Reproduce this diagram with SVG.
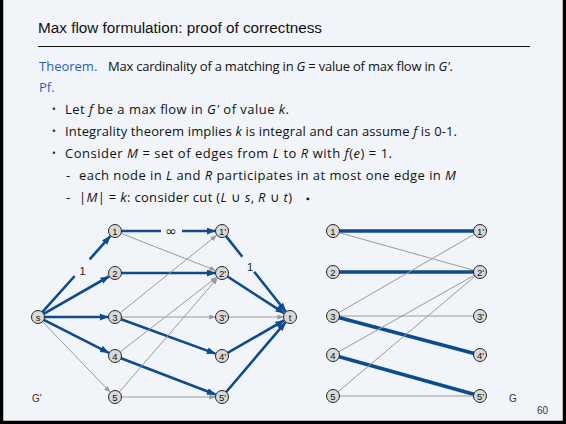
<svg xmlns="http://www.w3.org/2000/svg" width="566" height="424" viewBox="0 0 566 424">
<defs>
<style>
.bg{fill:#f1f5f9}
.title{font-family:"Liberation Sans",Arial,sans-serif;font-size:15.3px;fill:#111}
.body{font-family:"Open Sans","Noto Sans",sans-serif;font-size:13px;fill:#111}
.blue{fill:#1f63b8}
.it{font-style:italic}
.nd circle{fill:#d9d9d9;stroke:#222;stroke-width:1}
.nd text{font-family:"Liberation Sans",Arial,sans-serif;font-size:9.5px;fill:#111;text-anchor:middle}
.thick{stroke:#0d4a8e;stroke-width:2.6;fill:none}
.thin{stroke:#9a9a9a;stroke-width:1;fill:none}
.mthick{stroke:#0d4a8e;stroke-width:3.6;fill:none}
.lbl{font-family:"Liberation Sans",Arial,sans-serif;font-size:11px;fill:#222;text-anchor:middle}
.inf{font-family:"DejaVu Sans",sans-serif;font-size:14px;fill:#222;text-anchor:middle}
.small{font-family:"Liberation Sans",Arial,sans-serif;font-size:10px;fill:#333}
</style>
<marker id="ab" markerUnits="userSpaceOnUse" markerWidth="10" markerHeight="8" refX="8.5" refY="3.5" orient="auto">
<path d="M0,0 L9,3.5 L0,7 z" fill="#0d4a8e"/>
</marker>
<marker id="ag" markerUnits="userSpaceOnUse" markerWidth="7" markerHeight="6" refX="6" refY="2.5" orient="auto">
<path d="M0,0 L6.5,2.5 L0,5 z" fill="#9a9a9a"/>
</marker>
</defs>
<rect class="bg" x="0" y="0" width="566" height="424"/>
<path d="M1.5,0 V422.5 H564.5 V0" fill="none" stroke="#000" stroke-width="3.5"/>

<g id="header">
<text class="title" x="38" y="33">Max flow formulation: proof of correctness</text>
<line x1="38" y1="46.5" x2="530" y2="46.5" stroke="#111" stroke-width="1.2"/>
</g>

<g id="text" class="body">
<text x="39" y="71" class="blue">Theorem.</text>
<text x="108" y="71" textLength="345" lengthAdjust="spacing">Max cardinality of a matching in <tspan class="it">G</tspan> = value of max flow in <tspan class="it">G'</tspan>.</text>
<text x="39" y="92" class="blue">Pf.</text>
<text x="52" y="113" font-size="10">•</text>
<text x="65" y="114" textLength="224" lengthAdjust="spacing">Let <tspan class="it">f</tspan> be a max flow in <tspan class="it">G'</tspan> of value <tspan class="it">k</tspan>.</text>
<text x="52" y="135" font-size="10">•</text>
<text x="65" y="136" textLength="392" lengthAdjust="spacing">Integrality theorem implies <tspan class="it">k</tspan> is integral and can assume <tspan class="it">f</tspan> is 0-1.</text>
<text x="52" y="157" font-size="10">•</text>
<text x="65" y="158" textLength="327" lengthAdjust="spacing">Consider <tspan class="it">M</tspan> = set of edges from <tspan class="it">L</tspan> to <tspan class="it">R</tspan> with <tspan class="it">f</tspan>(<tspan class="it">e</tspan>) = 1.</text>
<text x="66" y="180">-</text>
<text x="79" y="180" textLength="377" lengthAdjust="spacing">each node in <tspan class="it">L</tspan> and <tspan class="it">R</tspan> participates in at most one edge in <tspan class="it">M</tspan></text>
<text x="66" y="202">-</text>
<text x="79" y="202" textLength="213" lengthAdjust="spacing">|<tspan class="it">M</tspan>| = <tspan class="it">k</tspan>:  consider cut (<tspan class="it">L</tspan> ∪ <tspan class="it">s</tspan>, <tspan class="it">R</tspan> ∪ <tspan class="it">t</tspan>)</text>
<text x="306" y="202" font-size="10">▪</text>
</g>

<g id="connectors-left">
<line class="thick" x1="42.3" y1="312.2" x2="74.7" y2="276"/>
<line class="thick" x1="89.7" y1="259.3" x2="110.3" y2="236.2" marker-end="url(#ab)"/>
<line class="thick" x1="43.6" y1="313.8" x2="108.9" y2="276.5" marker-end="url(#ab)"/>
<line class="thick" x1="44.5" y1="317" x2="108.3" y2="317" marker-end="url(#ab)"/>
<line class="thick" x1="43.8" y1="319.9" x2="108.8" y2="352.8" marker-end="url(#ab)"/>
<line class="thin" x1="42.5" y1="321.7" x2="110.1" y2="392" marker-end="url(#ag)"/>
<line class="thick" x1="121.5" y1="231" x2="161" y2="231"/>
<line class="thick" x1="182" y1="231" x2="215.3" y2="231" marker-end="url(#ab)"/>
<line class="thin" x1="121.1" y1="233.4" x2="215.5" y2="270.4" marker-end="url(#ag)"/>
<line class="thick" x1="121.5" y1="273" x2="215.3" y2="273" marker-end="url(#ab)"/>
<line class="thin" x1="120.1" y1="312.9" x2="216.5" y2="235.4" marker-end="url(#ag)"/>
<line class="thin" x1="121.5" y1="317" x2="215.3" y2="317" marker-end="url(#ag)"/>
<line class="thick" x1="121.1" y1="319.2" x2="215.4" y2="353.6" marker-end="url(#ab)"/>
<line class="thin" x1="120.1" y1="352" x2="216.5" y2="277.3" marker-end="url(#ag)"/>
<line class="thick" x1="121.1" y1="358.3" x2="215.5" y2="394.5" marker-end="url(#ab)"/>
<line class="thin" x1="119.2" y1="392.1" x2="217.4" y2="278.3" marker-end="url(#ag)"/>
<line class="thin" x1="121.5" y1="397" x2="215.3" y2="397" marker-end="url(#ag)"/>
<line class="thick" x1="226" y1="236.1" x2="242.3" y2="256.7"/>
<line class="thick" x1="254.2" y1="271.7" x2="285.7" y2="311.5" marker-end="url(#ab)"/>
<line class="thick" x1="227.5" y1="276.5" x2="284.1" y2="313.2" marker-end="url(#ab)"/>
<line class="thin" x1="228.5" y1="317" x2="283.3" y2="317" marker-end="url(#ag)"/>
<line class="thick" x1="227.6" y1="352.8" x2="283.9" y2="320.5" marker-end="url(#ab)"/>
<line class="thick" x1="226.2" y1="392" x2="285.5" y2="322.3" marker-end="url(#ab)"/>
<text class="lbl" x="82.5" y="275">1</text>
<text class="inf" x="171" y="236">∞</text>
<text class="lbl" x="250" y="271">1</text>
</g>

<g id="connectors-right">
<line class="mthick" x1="333" y1="231" x2="480" y2="231"/>
<line class="thin" x1="333" y1="231" x2="480" y2="272"/>
<line class="mthick" x1="333" y1="272" x2="480" y2="272"/>
<line class="thin" x1="333" y1="316" x2="480" y2="231"/>
<line class="thin" x1="333" y1="316" x2="480" y2="316"/>
<line class="mthick" x1="333" y1="316" x2="480" y2="355"/>
<line class="thin" x1="333" y1="355" x2="480" y2="272"/>
<line class="mthick" x1="333" y1="355" x2="480" y2="396"/>
<line class="thin" x1="333" y1="396" x2="480" y2="272"/>
<line class="thin" x1="333" y1="396" x2="480" y2="396"/>
</g>

<g id="s" class="nd"><circle cx="38" cy="317" r="6.5"/><text x="38" y="320.5">s</text></g>
<g id="n1" class="nd"><circle cx="115" cy="231" r="6.5"/><text x="115" y="234.5">1</text></g>
<g id="n2" class="nd"><circle cx="115" cy="273" r="6.5"/><text x="115" y="276.5">2</text></g>
<g id="n3" class="nd"><circle cx="115" cy="317" r="6.5"/><text x="115" y="320.5">3</text></g>
<g id="n4" class="nd"><circle cx="115" cy="356" r="6.5"/><text x="115" y="359.5">4</text></g>
<g id="n5" class="nd"><circle cx="115" cy="397" r="6.5"/><text x="115" y="400.5">5</text></g>
<g id="n1p" class="nd"><circle cx="222" cy="231" r="6.5"/><text x="222.5" y="234.5">1'</text></g>
<g id="n2p" class="nd"><circle cx="222" cy="273" r="6.5"/><text x="222.5" y="276.5">2'</text></g>
<g id="n3p" class="nd"><circle cx="222" cy="317" r="6.5"/><text x="222.5" y="320.5">3'</text></g>
<g id="n4p" class="nd"><circle cx="222" cy="356" r="6.5"/><text x="222.5" y="359.5">4'</text></g>
<g id="n5p" class="nd"><circle cx="222" cy="397" r="6.5"/><text x="222.5" y="400.5">5'</text></g>
<g id="t" class="nd"><circle cx="290" cy="317" r="6.5"/><text x="290" y="320.5">t</text></g>

<g id="m1" class="nd"><circle cx="333" cy="231" r="6.5"/><text x="333" y="234.5">1</text></g>
<g id="m2" class="nd"><circle cx="333" cy="272" r="6.5"/><text x="333" y="275.5">2</text></g>
<g id="m3" class="nd"><circle cx="333" cy="316" r="6.5"/><text x="333" y="319.5">3</text></g>
<g id="m4" class="nd"><circle cx="333" cy="355" r="6.5"/><text x="333" y="358.5">4</text></g>
<g id="m5" class="nd"><circle cx="333" cy="396" r="6.5"/><text x="333" y="399.5">5</text></g>
<g id="m1p" class="nd"><circle cx="480" cy="231" r="6.5"/><text x="480.5" y="234.5">1'</text></g>
<g id="m2p" class="nd"><circle cx="480" cy="272" r="6.5"/><text x="480.5" y="275.5">2'</text></g>
<g id="m3p" class="nd"><circle cx="480" cy="316" r="6.5"/><text x="480.5" y="319.5">3'</text></g>
<g id="m4p" class="nd"><circle cx="480" cy="355" r="6.5"/><text x="480.5" y="358.5">4'</text></g>
<g id="m5p" class="nd"><circle cx="480" cy="396" r="6.5"/><text x="480.5" y="399.5">5'</text></g>

<g id="labels">
<text class="small" x="32" y="402">G'</text>
<text class="small" x="509" y="402">G</text>
<text class="small" x="537" y="414">60</text>
</g>
</svg>
